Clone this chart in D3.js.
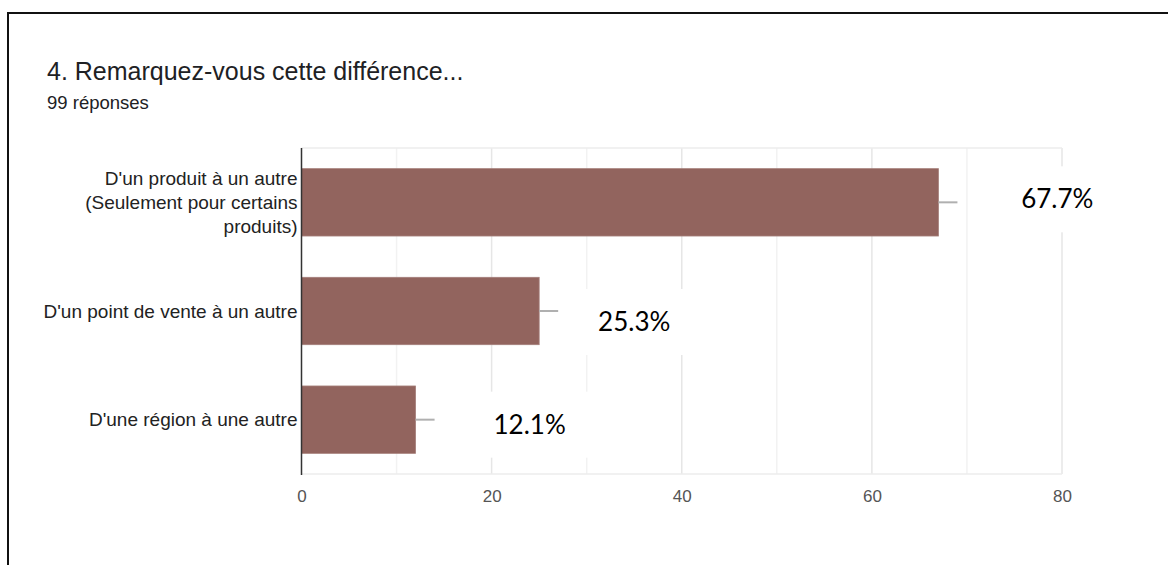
<!DOCTYPE html>
<html>
<head>
<meta charset="utf-8">
<script src="https://cdn.jsdelivr.net/npm/d3@7"></script>
<style>
  html, body { margin: 0; padding: 0; background: #fff; }
  svg { display: block; }
</style>
</head>
<body>
<svg id="chart" width="1168" height="565"></svg>
<script>
// ---- data ----
const title = "4. Remarquez-vous cette différence...";
const subtitle = "99 réponses";
const categories = [
  "D'un produit à un autre (Seulement pour certains produits)",
  "D'un point de vente à un autre",
  "D'une région à une autre"
];
const categoryLines = [
  ["D'un produit à un autre", "(Seulement pour certains", "produits)"],
  ["D'un point de vente à un autre"],
  ["D'une région à une autre"]
];
const counts = [67, 25, 12];
const whiskers = [2, 2, 2];
const percentLabels = ["67.7%", "25.3%", "12.1%"];
const xTicks = [0, 20, 40, 60, 80];
const xGrid = [10, 20, 30, 40, 50, 60, 70, 80];

// ---- layout ----
const plot = { left: 301.5, right: 1062, top: 148, bottom: 474 };
const labelShift = [12.5, 10, 12];  // label centre offset from bar end, in value units
const labelDy = [-3, 11, 5];        // vertical nudge of pasted labels, px
const sans = "'Liberation Sans', Arial, sans-serif";

const svg = d3.select("#chart");

// frame
svg.append("rect")
  .attr("x", 8).attr("y", 13)
  .attr("width", 1200).attr("height", 600)
  .attr("fill", "#fff").attr("stroke", "#111").attr("stroke-width", 2);

// titles
svg.append("text")
  .attr("x", 47).attr("y", 80)
  .attr("font-family", sans)
  .attr("font-size", 25).attr("fill", "#202124")
  .text(title);
svg.append("text")
  .attr("x", 47).attr("y", 109)
  .attr("font-family", sans)
  .attr("font-size", 18.5).attr("fill", "#202124")
  .text(subtitle);

const x = d3.scaleLinear().domain([0, 80]).range([plot.left, plot.right]);
const y = d3.scaleBand().domain(categories).range([plot.top, plot.bottom])
  .paddingInner(0.38).paddingOuter(0.19);

// grid
const g = svg.append("g");
g.selectAll("line.grid").data(xGrid).enter().append("line")
  .attr("x1", d => x(d)).attr("x2", d => x(d))
  .attr("y1", plot.top).attr("y2", plot.bottom)
  .attr("stroke", d => d % 20 === 0 ? "#e6e6e6" : "#f2f2f2")
  .attr("stroke-width", 1.5);
// top & bottom plot border
[plot.top, plot.bottom].forEach(yy => {
  g.append("line").attr("x1", plot.left).attr("x2", plot.right)
    .attr("y1", yy).attr("y2", yy)
    .attr("stroke", "#ececec").attr("stroke-width", 1.5);
});

// bars
g.selectAll("rect.bar").data(categories).enter().append("rect")
  .attr("x", x(0))
  .attr("y", d => y(d))
  .attr("width", (d, i) => x(counts[i]) - x(0))
  .attr("height", y.bandwidth())
  .attr("fill", "#92645e")
  .attr("stroke", "#a57f7a").attr("stroke-width", 0.8);

// whiskers
g.selectAll("line.whisk").data(categories).enter().append("line")
  .attr("x1", (d, i) => x(counts[i]))
  .attr("x2", (d, i) => x(counts[i] + whiskers[i]))
  .attr("y1", d => y(d) + y.bandwidth() / 2)
  .attr("y2", d => y(d) + y.bandwidth() / 2)
  .attr("stroke", "#b0b0b0").attr("stroke-width", 2);

// left axis line
g.append("line")
  .attr("x1", plot.left).attr("x2", plot.left)
  .attr("y1", plot.top).attr("y2", plot.bottom + 1)
  .attr("stroke", "#333").attr("stroke-width", 1.5);

// x tick labels
const xAxis = d3.axisBottom(x).tickValues(xTicks).tickSize(0).tickPadding(16).tickFormat(d3.format("d"));
const xa = svg.append("g").attr("transform", `translate(0,${plot.bottom})`).call(xAxis);
xa.select(".domain").remove();
xa.selectAll("text")
  .attr("font-family", sans)
  .attr("font-size", 17).attr("fill", "#555");

// y category labels
const yl = svg.append("g");
categories.forEach((c, i) => {
  const lines = categoryLines[i];
  const cy = y(c) + y.bandwidth() / 2;
  const lh = 24;
  const t = yl.append("text")
    .attr("text-anchor", "end")
    .attr("font-family", sans)
    .attr("font-size", 19).attr("fill", "#222");
  lines.forEach((ln, k) => {
    t.append("tspan")
      .attr("x", plot.left - 4)
      .attr("y", cy + (k - (lines.length - 1) / 2) * lh)
      .attr("dy", "0.35em")
      .text(ln);
  });
});

// percent labels with white boxes
categories.forEach((c, i) => {
  const cx = x(counts[i] + labelShift[i]);
  const cy = y(c) + y.bandwidth() / 2 + labelDy[i];
  svg.append("rect")
    .attr("x", cx - 65).attr("y", cy - 33)
    .attr("width", 130).attr("height", 66)
    .attr("fill", "#fff");
  svg.append("text")
    .attr("x", cx).attr("y", cy)
    .attr("dy", "0.35em")
    .attr("text-anchor", "middle")
    .attr("font-family", "Lato, 'Open Sans', sans-serif")
    .attr("font-size", 26).attr("fill", "#000")
    .text(percentLabels[i]);
});
</script>
</body>
</html>
